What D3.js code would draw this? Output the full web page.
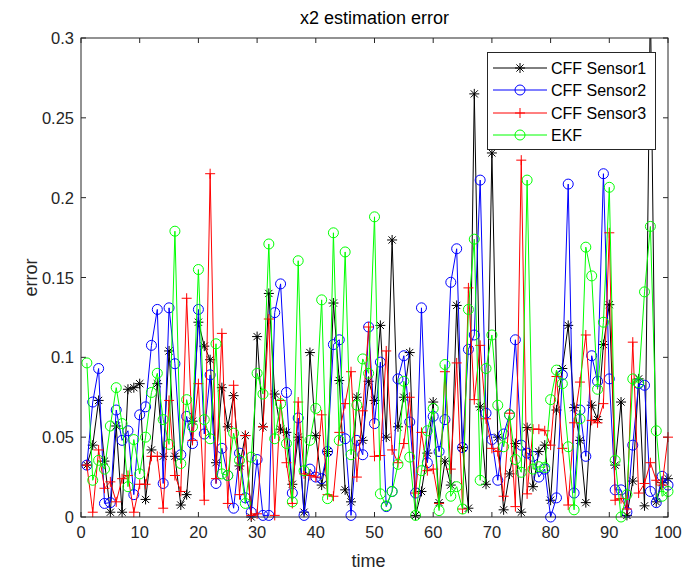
<!DOCTYPE html>
<html><head><meta charset="utf-8">
<script src="https://cdn.jsdelivr.net/npm/d3@7"></script>
<style>body{margin:0;background:#fff}svg{display:block;font-family:"Liberation Sans",Arial,sans-serif}</style>
</head><body><svg id="c" width="684" height="574"></svg>
<script>
const title = "x2 estimation error";
const xLabel = "time";
const yLabel = "error";
const xTicks = [0,10,20,30,40,50,60,70,80,90,100];
const yTicks = [0,0.05,0.1,0.15,0.2,0.25,0.3];
const yTickLabels = ["0","0.05","0.1","0.15","0.2","0.25","0.3"];
const seriesNames = ["CFF Sensor1","CFF Sensor2","CFF Sensor3","EKF"];
const sensor1 = [0.0325,0.045,0.073,0.035,0.003,0.057,0.003,0.080,0.081,0.0835,
0.011,0.042,0.0835,0.038,0.104,0.038,0.0075,0.014,0.06,0.122,
0.107,0.0985,0.034,0.081,0.0565,0.076,0.032,0.051,0.0,0.113,
0.0565,0.14,0.077,0.055,0.053,0.0205,0.05,0.003,0.103,0.051,
0.020,0.041,0.134,0.0855,0.017,0.0095,0.075,0.048,0.085,0.073,
0.12,0.050,0.1735,0.0565,0.075,0.103,0.001,0.016,0.040,0.072,
0.009,0.035,0.020,0.1325,0.0435,0.0055,0.265,0.069,0.0205,0.228,
0.05,0.0045,0.027,0.046,0.003,0.056,0.019,0.041,0.045,0.0105,
0.067,0.093,0.12,0.0685,0.048,0.009,0.070,0.061,0.108,0.133,
0.0325,0.072,0.001,0.0225,0.0865,0.007,0.325,0.0095,0.0215,0.024];
const sensor2 = [0.0325,0.072,0.093,0.0085,0.009,0.067,0.048,0.054,0.014,0.064,
0.069,0.1075,0.130,0.021,0.131,0.096,0.039,0.063,0.046,0.130,
0.052,0.089,0.021,0.043,0.026,0.0055,0.040,0.012,0.003,0.036,
0.001,0.001,0.128,0.146,0.078,0.015,0.062,0.001,0.030,0.025,
0.024,0.041,0.108,0.111,0.049,0.001,0.048,0.039,0.119,0.0585,
0.097,0.0065,0.016,0.0865,0.101,0.0595,0.015,0.131,0.034,0.063,
0.041,0.061,0.147,0.168,0.0435,0.105,0.114,0.211,0.065,0.0485,
0.023,0.052,0.064,0.111,0.045,0.040,0.038,0.025,0.030,0.0,
0.012,0.089,0.2085,0.015,0.067,0.038,0.101,0.085,0.215,0.0865,
0.017,0.017,0.003,0.045,0.0835,0.0825,0.016,0.009,0.0255,0.02];
const sensor3 = [0.0325,0.003,0.042,0.018,0.022,0.0095,0.024,0.026,0.003,0.0205,
0.0205,0.038,0.038,0.0055,0.073,0.026,0.016,0.137,0.048,0.0835,
0.0105,0.215,0.024,0.115,0.0085,0.0825,0.014,0.051,0.001,0.002,
0.0565,0.124,0.001,0.073,0.034,0.0085,0.072,0.027,0.026,0.025,
0.064,0.014,0.013,0.053,0.071,0.091,0.025,0.0665,0.119,0.038,
0.0385,0.104,0.042,0.034,0.046,0.075,0.015,0.053,0.029,0.030,
0.0085,0.091,0.030,0.0965,0.005,0.1435,0.0735,0.1075,0.0615,0.043,
0.041,0.013,0.065,0.0065,0.2235,0.0145,0.055,0.055,0.054,0.045,
0.088,0.043,0.0075,0.059,0.0845,0.114,0.0605,0.059,0.071,0.178,
0.0105,0.0115,0.005,0.1095,0.015,0.021,0.034,0.023,0.02,0.05];
const ekf = [0.0965,0.023,0.0355,0.030,0.057,0.081,0.0585,0.019,0.0485,0.027,
0.050,0.078,0.090,0.061,0.0455,0.179,0.0335,0.0735,0.0565,0.155,
0.061,0.049,0.1085,0.027,0.026,0.0525,0.0355,0.0085,0.0375,0.090,
0.077,0.171,0.049,0.071,0.046,0.0095,0.1605,0.029,0.048,0.068,
0.136,0.0115,0.178,0.048,0.166,0.039,0.07,0.099,0.090,0.188,
0.0145,0.007,0.016,0.033,0.085,0.0375,0.001,0.029,0.054,0.068,
0.004,0.0955,0.013,0.019,0.005,0.130,0.174,0.023,0.093,0.114,
0.070,0.044,0.064,0.036,0.028,0.211,0.03,0.0315,0.031,0.0735,
0.092,0.0835,0.044,0.0045,0.0615,0.169,0.151,0.08,0.122,0.2065,
0.0355,0.0,0.014,0.0865,0.084,0.141,0.182,0.054,0.013,0.016];
const colors = ["#000000","#0000ff","#ff0000","#00ff00"];
const markers = ["star","circle","plus","circle"];

const svg = d3.select("#c");
const L=81, R=668, T=38, B=517;
const x = d3.scaleLinear().domain([0,100]).range([L,R]);
const y = d3.scaleLinear().domain([0,0.3]).range([B,T]);

svg.append("rect").attr("x",0).attr("y",0).attr("width",684).attr("height",574).attr("fill","#fff");
svg.append("clipPath").attr("id","pc").append("rect").attr("x",L).attr("y",T).attr("width",R-L).attr("height",B-T);

const tl=5;
const ax = svg.append("g").attr("stroke","#262626").attr("stroke-width",1);
xTicks.forEach(t=>{
  ax.append("line").attr("x1",x(t)).attr("x2",x(t)).attr("y1",B).attr("y2",B-tl);
  ax.append("line").attr("x1",x(t)).attr("x2",x(t)).attr("y1",T).attr("y2",T+tl);
});
yTicks.forEach(t=>{
  ax.append("line").attr("x1",L).attr("x2",L+tl).attr("y1",y(t)).attr("y2",y(t));
  ax.append("line").attr("x1",R).attr("x2",R-tl).attr("y1",y(t)).attr("y2",y(t));
});
svg.append("g").selectAll("text").data(xTicks).join("text")
  .attr("x",d=>x(d)).attr("y",B+21).attr("text-anchor","middle").attr("font-size",16.5).attr("fill","#262626").text(d=>d);
svg.append("g").selectAll("text").data(yTicks).join("text")
  .attr("x",L-7).attr("y",d=>y(d)+6).attr("text-anchor","end").attr("font-size",16.5).attr("fill","#262626").text((d,i)=>yTickLabels[i]);

svg.append("text").attr("x",(L+R)/2).attr("y",24).attr("text-anchor","middle").attr("font-size",18).attr("fill","#000").text(title);
svg.append("text").attr("x",(L+R)/2 - 6).attr("y",567).attr("text-anchor","middle").attr("font-size",18).attr("fill","#262626").text(xLabel);
svg.append("text").attr("transform",`translate(37,${(T+B)/2}) rotate(-90)`).attr("text-anchor","middle").attr("font-size",18).attr("fill","#262626").text(yLabel);

function drawMarker(g, type, cx, cy, col){
  const s=5;
  if(type==="circle"){
    g.append("circle").attr("cx",cx).attr("cy",cy).attr("r",s).attr("fill","none").attr("stroke",col).attr("stroke-width",1);
  } else if(type==="plus"){
    g.append("path").attr("d",`M${cx-s},${cy}H${cx+s}M${cx},${cy-s}V${cy+s}`).attr("stroke",col).attr("stroke-width",1).attr("fill","none");
  } else {
    const d=s*0.72;
    g.append("path").attr("d",`M${cx-s},${cy}H${cx+s}M${cx},${cy-s}V${cy+s}M${cx-d},${cy-d}L${cx+d},${cy+d}M${cx-d},${cy+d}L${cx+d},${cy-d}`).attr("stroke",col).attr("stroke-width",1).attr("fill","none");
  }
}

const all=[sensor1,sensor2,sensor3,ekf];
const line = d3.line().x((d,i)=>x(i+1)).y(d=>y(d));
all.forEach((vals,k)=>{
  const g = svg.append("g");
  g.append("path").datum(vals).attr("d",line).attr("clip-path","url(#pc)").attr("fill","none").attr("stroke",colors[k]).attr("stroke-width",1);
  vals.forEach((v,i)=>{ if(v<=0.3) drawMarker(g, markers[k], x(i+1), y(v), colors[k]); });
});

svg.append("rect").attr("x",L).attr("y",T).attr("width",R-L).attr("height",B-T).attr("fill","none").attr("stroke","#262626").attr("stroke-width",1);

const lg = svg.append("g");
lg.append("rect").attr("x",487.5).attr("y",52.5).attr("width",168).attr("height",97).attr("fill","#fff").attr("stroke","#262626").attr("stroke-width",1);
const rowsY=[68,90,113,135];
seriesNames.forEach((n,k)=>{
  lg.append("line").attr("x1",493).attr("x2",547).attr("y1",rowsY[k]).attr("y2",rowsY[k]).attr("stroke",colors[k]).attr("stroke-width",1);
  drawMarker(lg, markers[k], 520, rowsY[k], colors[k]);
  lg.append("text").attr("x",551).attr("y",rowsY[k]+6).attr("font-size",16).attr("fill","#000").text(n);
});
</script></body></html>
